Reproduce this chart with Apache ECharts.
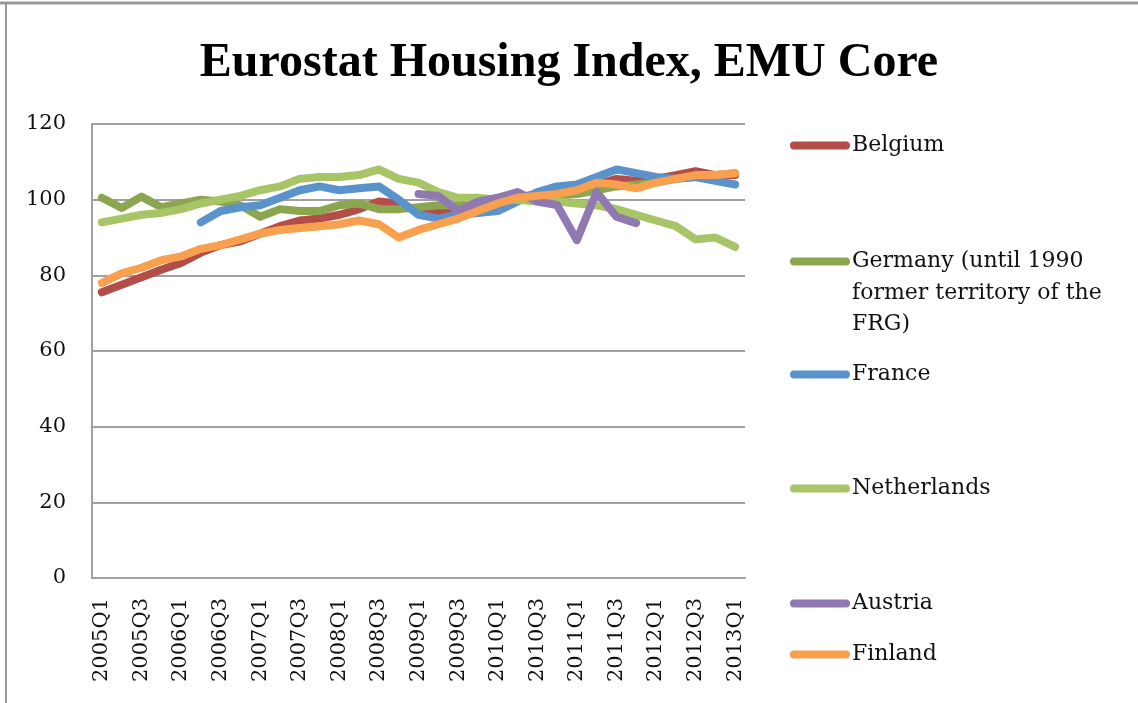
<!DOCTYPE html>
<html>
<head>
<meta charset="utf-8">
<script src="https://cdn.jsdelivr.net/npm/echarts@6/dist/echarts.min.js"></script>
<style>
  html, body { margin: 0; padding: 0; background: #fff; }
  #chart { width: 1138px; height: 703px; }
</style>
</head>
<body>
<div id="chart"></div>
<script>
// quarters 2005Q1 .. 2013Q1
const quarters = [];
for (let y = 2005; y <= 2013; y++) {
  for (let q = 1; q <= 4; q++) {
    if (y === 2013 && q > 1) break;
    quarters.push(y + 'Q' + q);
  }
}

const belgium = [75.5, 77.5, 79.5, 81.5, 83.3, 86, 88, 89, 91, 93, 94.5, 95, 96, 97.5, 99.5, 99,
  97, 96.5, 97, 98, 99, 100.5, 101.5, 102, 103, 104, 105.5, 105, 105.5, 106.5, 107.5, 106.5, 106.5];
const germany = [100.5, 97.8, 100.8, 98, 99, 100, 99.5, 98.5, 95.5, 97.5, 97, 97, 98.5, 99, 97.5, 97.5,
  98, 98.5, 98.5, 99, 99.5, 100.5, 100.5, 101, 101.5, 102.5, 103.5, 104, 104.5, 105.5, 106, 106.5, 107];
const france = [null, null, null, null, null, 94, 97, 98, 98.5, 100.5, 102.5, 103.5, 102.5, 103, 103.5, 100,
  96, 95, 96, 96.5, 97, 99.5, 102, 103.5, 104, 106, 108, 107, 106, 105.5, 106, 105, 104];
const netherlands = [94, 95, 96, 96.5, 97.5, 99, 100, 101, 102.5, 103.5, 105.5, 106, 106, 106.5, 108, 105.5,
  104.5, 102, 100.5, 100.5, 100, 100, 99.5, 99.5, 99, 98.5, 97.5, 96, 94.5, 93, 89.5, 90, 87.5];
const austria = [null, null, null, null, null, null, null, null, null, null, null, null, null, null, null, null,
  101.5, 101, 97, 99.5, 100.5, 102, 99.5, 98.6, 89.3, 102, 95.5, 93.8, null, null, null, null, null];
const finland = [78, 80.5, 82, 84, 85, 87, 88, 89.5, 91, 92, 92.5, 93, 93.5, 94.5, 93.5, 90,
  92, 93.5, 95, 97, 99, 100.5, 101, 101.5, 102.5, 104.5, 104, 103, 104.5, 105.5, 106.5, 106.5, 107];

const names = ['Belgium', 'Germany (until 1990 former territory of the FRG)', 'France',
  'Netherlands', 'Austria', 'Finland'];
const colors = ['#b24d48', '#8ca64f', '#5a93cb', '#a7c467', '#9078b3', '#f9a04f'];
const values = [belgium, germany, france, netherlands, austria, finland];
// legend item tops (px)
const legendTops = [130, 246, 359, 473, 588, 639];

const serif = 'DejaVu Serif';
const chart = echarts.init(document.getElementById('chart'));

const legends = names.map(function (n, i) {
  return {
    data: [n],
    left: 790,
    top: legendTops[i],
    padding: 0,
    orient: 'vertical',
    itemWidth: 60,
    itemHeight: 8,
    icon: 'path://M4,0 L56,0 A4,4 0 0 1 56,8 L4,8 A4,4 0 0 1 4,0 Z',
    selectedMode: false,
    formatter: function (name) {
      // the rest of the Germany label is drawn as graphic text below
      if (name.indexOf('Germany') === 0) return 'Germany (until 1990';
      return name;
    },
    textStyle: { fontFamily: serif, fontSize: 22, color: '#111', lineHeight: 31, padding: [0, 0, 0, -3] }
  };
});

const option = {
  animation: false,
  backgroundColor: '#fff',
  color: colors,
  title: {
    text: 'Eurostat Housing Index, EMU Core',
    left: 'center',
    top: 35,
    textStyle: { fontFamily: 'Liberation Serif', fontWeight: 'bold', fontSize: 48, color: '#000' }
  },
  legend: legends,
  grid: { left: 92, right: 393, top: 124, bottom: 125, containLabel: false },
  xAxis: {
    type: 'category',
    data: quarters,
    boundaryGap: true,
    axisLine: { lineStyle: { color: '#a0a0a0', width: 2 } },
    axisTick: { show: false },
    axisLabel: {
      interval: 1,
      rotate: 90,
      margin: 20,
      fontFamily: serif,
      fontSize: 21,
      color: '#111'
    }
  },
  yAxis: {
    type: 'value',
    min: 0,
    max: 120,
    interval: 20,
    axisLine: { show: true, lineStyle: { color: '#a0a0a0', width: 2 } },
    axisTick: { show: false },
    splitLine: { lineStyle: { color: '#a0a0a0', width: 2 } },
    axisLabel: { margin: 26, fontFamily: serif, fontSize: 21, color: '#111' }
  },
  graphic: [
    { type: 'line', shape: { x1: 0, y1: 3, x2: 1138, y2: 3 }, style: { stroke: '#999', lineWidth: 3 } },
    { type: 'line', shape: { x1: 6, y1: 3, x2: 6, y2: 703 }, style: { stroke: '#999', lineWidth: 2 } },
    {
      type: 'text', left: 852, top: 278,
      style: { text: 'former territory of the\nFRG)', font: '22px "DejaVu Serif"', fill: '#111', lineHeight: 31 }
    }
  ],
  series: names.map(function (n, i) {
    return {
      name: n,
      type: 'line',
      data: values[i],
      showSymbol: false,
      connectNulls: false,
      lineStyle: { width: 8, color: colors[i], cap: 'round', join: 'round' }
    };
  })
};

chart.setOption(option);
</script>
</body>
</html>
